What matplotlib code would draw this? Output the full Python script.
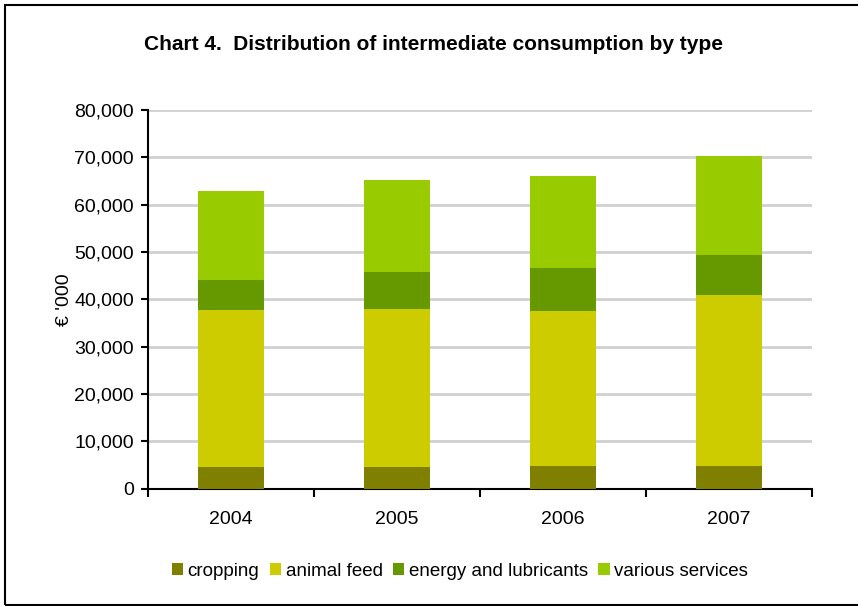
import numpy as np
import matplotlib.pyplot as plt
from matplotlib.patches import Rectangle

plt.rcParams['font.family'] = ['Liberation Sans', 'DejaVu Sans']

# data (EUR '000)
years = ["2004", "2005", "2006", "2007"]
cropping = [4500, 4500, 4800, 4800]
animal_feed = [33200, 33500, 32800, 36200]
energy = [6300, 7800, 8900, 8400]
services = [18900, 19300, 19600, 20800]

series_names = ["cropping", "animal feed", "energy and lubricants", "various services"]
series_colors = ["#808000", "#cccc00", "#669900", "#99cc00"]

fig = plt.figure(figsize=(8.58, 6.06), dpi=100)
ax = fig.add_axes([148 / 858, 1 - 488.5 / 606, 664 / 858, 378.5 / 606])

x = np.arange(len(years))
bottom = np.zeros(len(years))
for vals, name, col in zip([cropping, animal_feed, energy, services], series_names, series_colors):
    ax.bar(x, vals, width=0.4, bottom=bottom, color=col, label=name, zorder=3)
    bottom = bottom + np.array(vals)

ax.set_xlim(-0.5, len(years) - 0.5)
ax.set_ylim(0, 80000)
ax.set_yticks(np.arange(0, 80001, 10000))
ax.set_yticklabels([f"{v:,}" for v in range(0, 80001, 10000)], fontsize=14)
ax.yaxis.grid(True, color="#d0d0d0", linewidth=2, zorder=0)

# category boundaries get the tick marks, labels sit in the middle
ax.set_xticks(np.arange(-0.5, len(years), 1.0))
ax.set_xticklabels([])
ax.set_xticks(x, minor=True)
ax.set_xticklabels(years, minor=True, fontsize=14)
ax.tick_params(axis="x", which="major", direction="out", length=6, width=1.5)
ax.tick_params(axis="x", which="minor", length=0, pad=16)
ax.tick_params(axis="y", direction="out", length=5, width=1.5, pad=5)

for side in ["top", "right"]:
    ax.spines[side].set_visible(False)
for side in ["left", "bottom"]:
    ax.spines[side].set_linewidth(1.5)

ax.set_ylabel("€ '000", fontsize=14, labelpad=1)

fig.text(434 / 858, 1 - 45 / 606, "Chart 4.  Distribution of intermediate consumption by type",
         ha="center", va="center", fontsize=15, fontweight="bold")

fig.legend(loc="center", bbox_to_anchor=(460 / 858, 1 - 571 / 606), ncol=4, frameon=False,
           fontsize=13.5, handlelength=0.6, handleheight=0.6, handletextpad=0.25, columnspacing=0.55)

# outer frame around the chart
fig.patches.append(Rectangle((4.5 / 858, 1 - 605 / 606), 1.2, 600 / 606, transform=fig.transFigure,
                             fill=False, edgecolor="black", linewidth=1.5))

plt.savefig("out.png", dpi=100)
